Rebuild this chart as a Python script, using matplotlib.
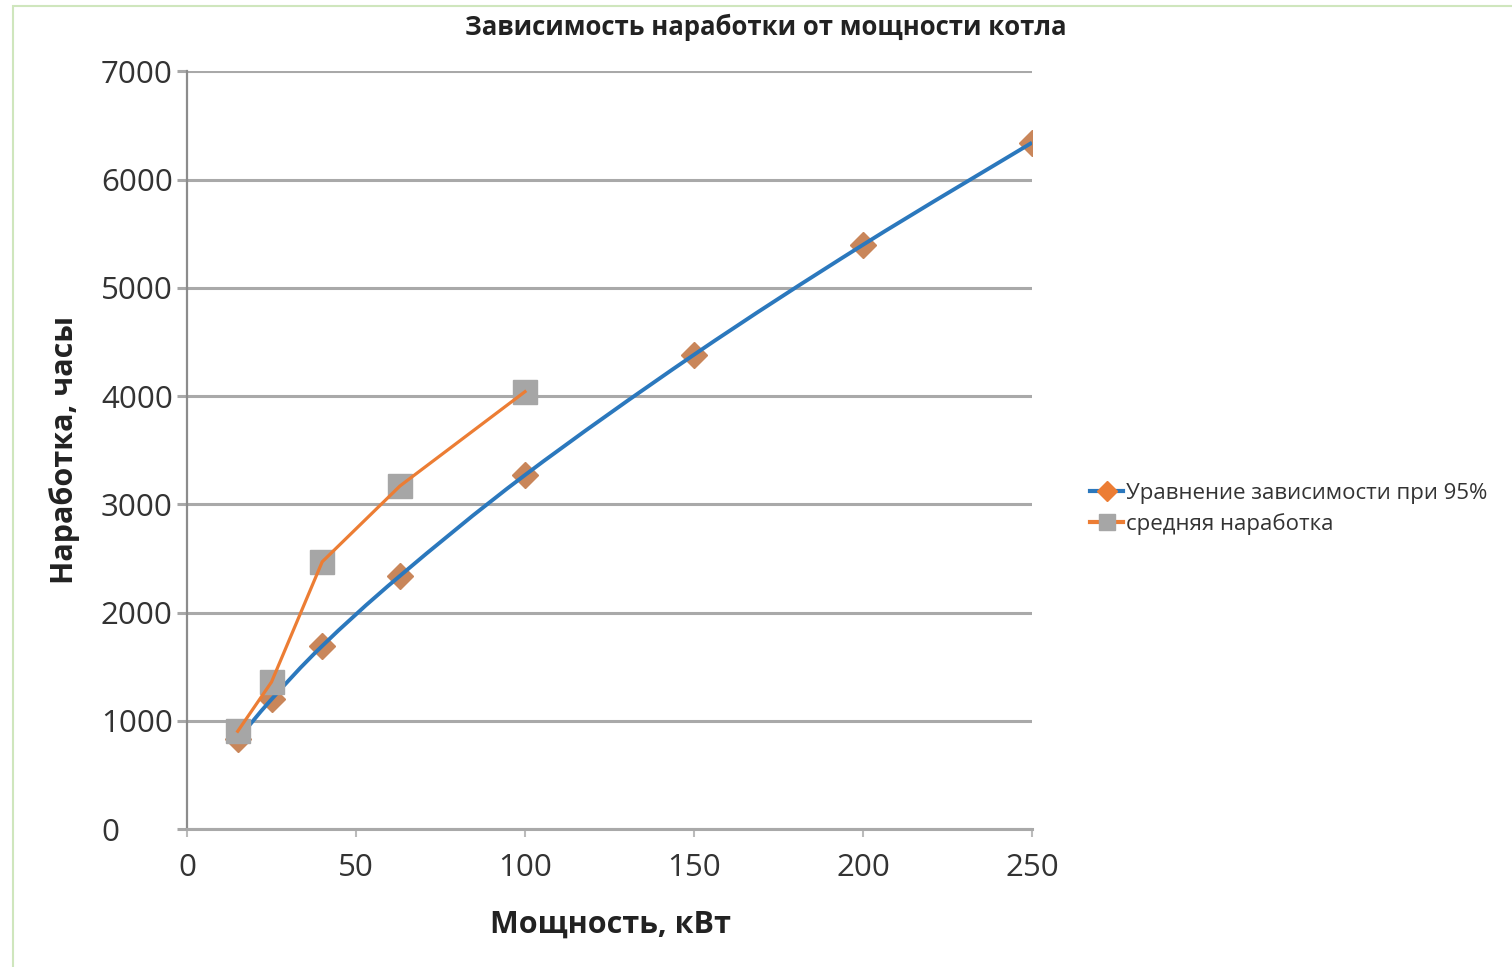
import matplotlib.pyplot as plt
from matplotlib.path import Path
from matplotlib.patches import PathPatch, Rectangle
from matplotlib.lines import Line2D

plt.rcParams['font.family'] = ['Open Sans', 'DejaVu Sans']

# Power of the boiler, kW
power_eq = [15, 25, 40, 63, 100, 150, 200, 250]
# Operating time by the 95% equation, hours
hours_eq = [830, 1200, 1693, 2340, 3271, 4382, 5397, 6340]

power_avg = [15, 25, 40, 63, 100]
# Average operating time, hours
hours_avg = [905, 1360, 2470, 3170, 4041]

label_eq = 'Уравнение зависимости при 95%'
label_avg = 'средняя наработка'
x_ticks = [0, 50, 100, 150, 200, 250]
y_ticks = [0, 1000, 2000, 3000, 4000, 5000, 6000, 7000]

BLUE = '#2b78bd'
ORANGE = '#ec7d34'
DIAMOND = '#c9865a'
SQUARE = '#a6a6a6'
GRID = '#a9a9a9'
TEXT = '#333333'


def smooth_path(xs, ys):
    """Bezier path through the points, like a spreadsheet 'smoothed line'."""
    pts = list(zip(xs, ys))
    n = len(pts)
    verts = [pts[0]]
    codes = [Path.MOVETO]
    for i in range(n - 1):
        p0 = pts[i - 1] if i > 0 else pts[i]
        p1 = pts[i]
        p2 = pts[i + 1]
        p3 = pts[i + 2] if i + 2 < n else pts[i + 1]
        c1 = (p1[0] + (p2[0] - p0[0]) / 6, p1[1] + (p2[1] - p0[1]) / 6)
        c2 = (p2[0] - (p3[0] - p1[0]) / 6, p2[1] - (p3[1] - p1[1]) / 6)
        verts += [c1, c2, p2]
        codes += [Path.CURVE4] * 3
    return Path(verts, codes)


fig = plt.figure(figsize=(15.12, 9.67), dpi=100)
W, H = 1512, 967
ax = fig.add_axes([187 / W, 1 - 829.3 / H, (1032 - 187) / W, (829.3 - 71.2) / H])

# light green frame of the chart area
fig.patches.append(Rectangle((13 / W, -0.05), 1.2, 1 - 6 / H + 0.05,
                             transform=fig.transFigure, fill=False,
                             edgecolor='#cfe6bd', linewidth=1.5, zorder=0))

ax.set_xlim(0, 250)
ax.set_ylim(0, 7000)
ax.set_xticks(x_ticks)
ax.set_yticks(y_ticks)

ax.grid(axis='y', color=GRID, linewidth=2.2, zorder=0)
ax.set_axisbelow(True)
for side in ('top', 'right'):
    ax.spines[side].set_visible(False)
ax.spines['left'].set_color('#8c8c8c')
ax.spines['left'].set_linewidth(1.6)
ax.spines['bottom'].set_color(GRID)
ax.spines['bottom'].set_linewidth(2.2)

ax.tick_params(axis='y', direction='out', length=7, width=2.2, color=GRID,
               labelsize=22.5, labelcolor=TEXT, pad=55)
for lab in ax.get_yticklabels():
    lab.set_horizontalalignment('left')
ax.tick_params(axis='x', direction='out', length=6, width=1.5, color='#bbbbbb',
               labelsize=22.5, labelcolor=TEXT, pad=11)

# series 1: markers then the smoothed line on top
ax.plot(power_eq, hours_eq, linestyle='none', marker='D', markersize=13,
        markerfacecolor=DIAMOND, markeredgecolor=DIAMOND, zorder=3)
ax.add_patch(PathPatch(smooth_path(power_eq, hours_eq), facecolor='none',
                       edgecolor=BLUE, linewidth=2.8, zorder=4))

# series 2: straight segments over grey squares
ax.plot(power_avg, hours_avg, linestyle='none', marker='s', markersize=17,
        markerfacecolor=SQUARE, markeredgecolor=SQUARE, zorder=5)
ax.plot(power_avg, hours_avg, color=ORANGE, linewidth=2.3, zorder=6)

fig.text(766 / W, 1 - 27 / H, 'Зависимость наработки от мощности котла',
         fontsize=18.5, fontweight='bold', color='#222222',
         ha='center', va='center')
fig.text(610 / W, 1 - 925 / H, 'Мощность, кВт', fontsize=22, fontweight='bold',
         color='#222222', ha='center', va='center')
fig.text(65 / W, 1 - 450 / H, 'Наработка, часы', fontsize=22, fontweight='bold',
         color='#222222', ha='center', va='center', rotation=90)

handles = [
    Line2D([], [], color=BLUE, linewidth=3, marker='D', markersize=10,
           markerfacecolor=ORANGE, markeredgecolor=ORANGE),
    Line2D([], [], color=ORANGE, linewidth=3, marker='s', markersize=12,
           markerfacecolor=SQUARE, markeredgecolor=SQUARE),
]
fig.legend(handles, [label_eq, label_avg], loc='center left',
           bbox_to_anchor=(1079 / W, 1 - 509 / H), frameon=False,
           fontsize=16, handlelength=1.5, handletextpad=0.1,
           labelspacing=0.4, borderpad=0, labelcolor='#333333')

fig.savefig('out.png', dpi=100)
